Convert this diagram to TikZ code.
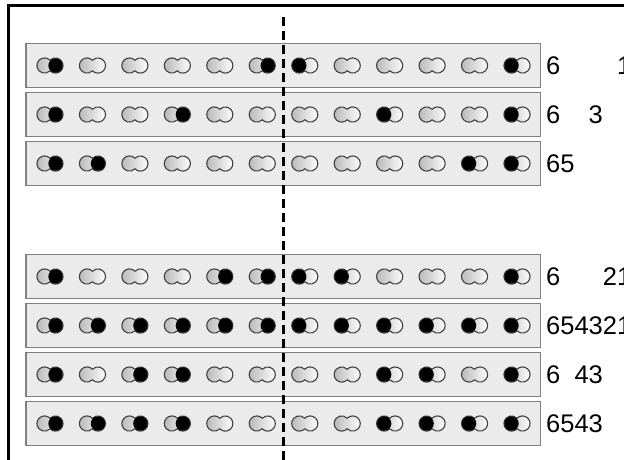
\documentclass[tikz,border=0pt]{standalone}
\usepackage{fontspec}
\setmainfont{Liberation Sans}

\tikzset{
  rowbox/.style={draw=black!50,fill=black!8,line width=1.3pt,
    minimum width=514.7pt,minimum height=44pt,inner sep=0pt},
  lab/.style={anchor=base west,inner sep=0pt,font=\fontsize{25.5}{30}\selectfont},
  midline/.style={line width=3pt,dash pattern=on 9pt off 5pt},
  pea/.pic={
    \draw[draw=black!75,line width=1.1pt,left color=black!28,middle color=white,right color=white]
      (0,5.3) arc[start angle=136,end angle=-136,radius=7.6]
      arc[start angle=-44,end angle=-316,radius=7.6] -- cycle;
  }
}

\begin{document}
\begin{tikzpicture}[x=1pt,y=-1pt]
  \useasboundingbox (0,0) rectangle (624,459);
  \clip (0,0) rectangle (624,459);

  % frame
  \draw[line width=3pt] (8.5,480) |- (650,5);

  % rows of pairs
  \foreach \r/\y/\on/\txt in {
      1/65.5/{1,6}/{6\hphantom{0000}1},
      2/114.5/{1,4}/{6\hphantom{00}3},
      3/163.5/{1,2}/{65},
      4/276.5/{1,5,6}/{6\hphantom{000}21},
      5/325.5/{1,2,3,4,5,6}/{654321},
      6/374.5/{1,3,4}/{6\hphantom{0}43},
      7/423.5/{1,2,3,4}/{6543}} {
    \node[rowbox] (row\r) at (283.35,\y) {};
    \foreach \i in {1,...,6} {
      \pic at ({50+(\i-1)*42.45},\y) {pea};
      \pic[xscale=-1] at ({517-(\i-1)*42.45},\y) {pea};
    }
    \foreach \i in \on {
      \fill ({55.5+(\i-1)*42.45},\y) circle[radius=7.2];
      \fill ({511.5-(\i-1)*42.45},\y) circle[radius=7.2];
    }
    \node[lab] (lab\r) at (546,\y+9.2) {\txt};
  }

  % centre line
  \coordinate (top) at (283,17);
  \coordinate (bot) at (283,480);
  \draw[midline] (top) -- (bot);
\end{tikzpicture}
\end{document}
